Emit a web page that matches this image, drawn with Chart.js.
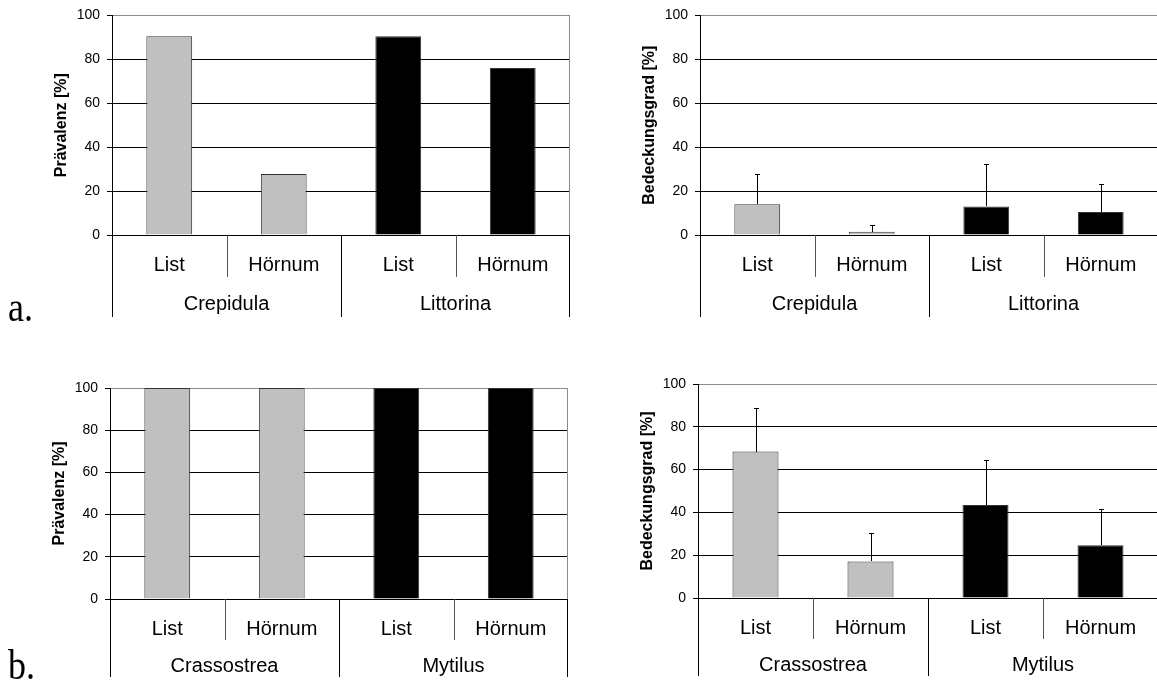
<!DOCTYPE html>
<html>
<head>
<meta charset="utf-8">
<script src="https://cdn.jsdelivr.net/npm/chart.js@4/dist/chart.umd.min.js"></script>
<style>
  html, body { margin: 0; padding: 0; background: #fff; width: 1157px; height: 682px; overflow: hidden; position: relative; }
  canvas { position: absolute; }
</style>
</head>
<body>
<canvas id="prevA" width="580" height="340" style="left:0;top:0"></canvas>
<canvas id="coverA" width="580" height="340" style="left:580px;top:0"></canvas>
<canvas id="prevB" width="580" height="341" style="left:0;top:341px"></canvas>
<canvas id="coverB" width="580" height="341" style="left:580px;top:341px"></canvas>
<script>
// Sites sampled per genus, and the genera of each row
const sites = ['List', 'Hörnum', 'List', 'Hörnum'];
const generaA = ['Crepidula', 'Littorina'];
const generaB = ['Crassostrea', 'Mytilus'];
const yTickValues = [0, 20, 40, 60, 80, 100];

// Row a: prevalence and mean coverage (with standard deviation)
const prevalenceA = [90.5, 27.8, 90.5, 76.0];
const coverageA = [14.0, 1.5, 13.0, 10.5];
const coverageSdA = [13.9, 2.9, 19.5, 12.8];

// Row b
const prevalenceB = [100, 100, 100, 100];
const coverageB = [68.4, 17.1, 43.4, 24.7];
const coverageSdB = [20.2, 13.1, 21.3, 16.8];

const barColors = ['#c0c0c0', '#c0c0c0', '#000000', '#000000'];

Chart.defaults.font.family = '"Liberation Sans", Arial, sans-serif';
Chart.defaults.color = '#000';

// Error whiskers plus the two-level category axis, drawn from the chart's scales
const axisDecor = {
  id: 'axisDecor',
  afterDatasetsDraw(chart, args, opts) {
    const errs = opts.errors;
    if (!errs) return;
    const { ctx, scales: { y } } = chart;
    const meta = chart.getDatasetMeta(0);
    const vals = chart.data.datasets[0].data;
    ctx.save();
    ctx.strokeStyle = '#000';
    ctx.lineWidth = 1;
    meta.data.forEach((bar, i) => {
      const cx = Math.round(bar.x) + 0.5;
      const base = Math.round(y.getPixelForValue(vals[i]));
      const top = Math.round(y.getPixelForValue(vals[i] + errs[i])) + 0.5;
      ctx.beginPath();
      ctx.moveTo(cx, base);
      ctx.lineTo(cx, top);
      ctx.moveTo(cx - 2.5, top);
      ctx.lineTo(cx + 2.5, top);
      ctx.stroke();
    });
    ctx.restore();
  },
  afterDraw(chart, args, opts) {
    const { ctx, chartArea: ca, scales: { x } } = chart;
    const c0 = x.getPixelForValue(0);
    const cw = x.getPixelForValue(1) - c0;
    const boundary = k => c0 + (k - 0.5) * cw;
    const bottom = Math.round(ca.bottom);
    ctx.save();
    ctx.lineWidth = 1;

    // right frame edge
    ctx.strokeStyle = '#8c8c8c';
    ctx.beginPath();
    const rx = Math.round(ca.right) - 0.5;
    ctx.moveTo(rx, ca.top);
    ctx.lineTo(rx, bottom);
    ctx.stroke();

    // separators under the axis
    for (let k = 0; k <= sites.length; k++) {
      const outer = k % 2 === 0;
      const px = Math.round(boundary(k)) + (k === sites.length ? -0.5 : 0.5);
      ctx.strokeStyle = outer ? '#000' : '#555';
      ctx.beginPath();
      ctx.moveTo(px, bottom);
      ctx.lineTo(px, bottom + (outer ? opts.outerLen : opts.innerLen));
      ctx.stroke();
    }

    // site and genus labels
    ctx.fillStyle = '#000';
    ctx.textAlign = 'center';
    ctx.textBaseline = 'middle';
    ctx.font = '20px "Liberation Sans", Arial, sans-serif';
    sites.forEach((s, i) => ctx.fillText(s, x.getPixelForValue(i), bottom + opts.siteOffset));
    opts.genera.forEach((g, j) => {
      const cx = (boundary(2 * j) + boundary(2 * j + 2)) / 2;
      ctx.fillText(g, cx, bottom + opts.genusOffset);
    });

    // y axis title
    ctx.save();
    ctx.translate(ca.left - 50, (ca.top + ca.bottom) / 2);
    ctx.rotate(-Math.PI / 2);
    ctx.font = 'bold 16px "Liberation Sans", Arial, sans-serif';
    ctx.fillText(opts.title, 0, 0);
    ctx.restore();

    // row letter (serif, slightly tall)
    if (opts.letter) {
      ctx.save();
      ctx.translate(8, opts.letterY);
      ctx.scale(1, 1.2);
      ctx.textAlign = 'left';
      ctx.textBaseline = 'alphabetic';
      ctx.font = '36px "Liberation Serif", "Times New Roman", serif';
      ctx.fillText(opts.letter, 0, 0);
      ctx.restore();
    }
    ctx.restore();
  }
};

function makePanel(id, values, errors, genera, title, box, extra) {
  return new Chart(document.getElementById(id), {
    type: 'bar',
    data: {
      labels: sites,
      datasets: [{
        data: values,
        backgroundColor: barColors,
        borderColor: '#333',
        borderWidth: 1,
        barPercentage: 0.4,
        categoryPercentage: 1.0
      }]
    },
    plugins: [axisDecor],
    options: {
      responsive: false,
      animation: false,
      devicePixelRatio: 1,
      layout: { padding: { left: 0, top: box.top, right: box.right, bottom: box.bottom } },
      plugins: {
        legend: { display: false },
        tooltip: { enabled: false },
        axisDecor: Object.assign({ errors, genera, title }, extra)
      },
      scales: {
        x: {
          offset: true,
          grid: { display: false },
          border: { display: false },
          ticks: { display: false },
          afterFit: s => { s.height = 0; }
        },
        y: {
          min: 0,
          max: 100,
          afterBuildTicks: s => { s.ticks = yTickValues.map(v => ({ value: v })); },
          grid: {
            color: c => (c.tick && c.tick.value === 100) ? '#8c8c8c' : '#000',
            tickColor: '#000',
            tickLength: 5,
            lineWidth: 1
          },
          border: { display: true, color: '#000', width: 1 },
          ticks: {
            padding: 7,
            color: '#000',
            font: { size: 14 }
          },
          afterFit: s => { s.width = box.left; }
        }
      }
    }
  });
}

const rowA = { siteOffset: 30, genusOffset: 69, innerLen: 42, outerLen: 82 };
const rowB = { siteOffset: 30, genusOffset: 67, innerLen: 41, outerLen: 78 };

makePanel('prevA', prevalenceA, null, generaA, 'Prävalenz [%]',
  { left: 112, top: 15, right: 10, bottom: 105 },
  Object.assign({ letter: 'a.', letterY: 321 }, rowA));
makePanel('coverA', coverageA, coverageSdA, generaA, 'Bedeckungsgrad [%]',
  { left: 120, top: 15, right: 2, bottom: 105 }, rowA);
makePanel('prevB', prevalenceB, null, generaB, 'Prävalenz [%]',
  { left: 110, top: 47, right: 12, bottom: 83 },
  Object.assign({ letter: 'b.', letterY: 338 }, rowB));
makePanel('coverB', coverageB, coverageSdB, generaB, 'Bedeckungsgrad [%]',
  { left: 118, top: 43, right: 2, bottom: 84 }, rowB);
</script>
</body>
</html>
